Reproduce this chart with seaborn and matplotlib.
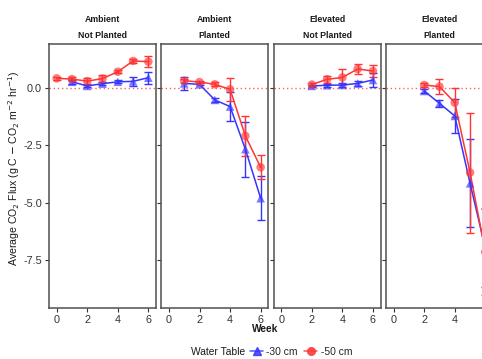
import matplotlib
matplotlib.use("Agg")
import matplotlib.pyplot as plt
import seaborn as sns
import pandas as pd
from matplotlib.lines import Line2D

# ---------------- data ----------------
panel_co2 = ["Ambient", "Ambient", "Elevated", "Elevated"]
panel_plant = ["Not Planted", "Planted", "Not Planted", "Planted"]
water_levels = ["-30 cm", "-50 cm"]

# -30 cm series (blue)
w30_weeks = [[1, 2, 3, 4, 5, 6], [1, 2, 3, 4, 5, 6], [2, 3, 4, 5, 6], [2, 3, 4, 5, 6]]
w30_mean = [[0.27, 0.09, 0.19, 0.27, 0.29, 0.45],
            [0.20, 0.16, -0.52, -0.81, -2.67, -4.81],
            [0.09, 0.12, 0.13, 0.20, 0.35],
            [-0.13, -0.67, -1.22, -4.16, -7.00]]
w30_se = [[0.08, 0.06, 0.07, 0.06, 0.20, 0.27],
          [0.28, 0.04, 0.10, 0.65, 1.20, 0.95],
          [0.04, 0.07, 0.10, 0.12, 0.30],
          [0.10, 0.15, 0.75, 1.92, 1.70]]

# -50 cm series (red)
w50_weeks = [[0, 1, 2, 3, 4, 5, 6], [1, 2, 3, 4, 5, 6], [2, 3, 4, 5, 6], [2, 3, 4, 5, 6]]
w50_mean = [[0.42, 0.39, 0.30, 0.41, 0.71, 1.18, 1.15],
            [0.32, 0.26, 0.16, -0.06, -2.09, -3.46],
            [0.15, 0.38, 0.46, 0.83, 0.74],
            [0.13, 0.06, -0.64, -3.69, -7.15]]
w50_se = [[0.05, 0.10, 0.14, 0.14, 0.07, 0.10, 0.25],
          [0.08, 0.06, 0.09, 0.50, 0.87, 0.53],
          [0.07, 0.15, 0.35, 0.20, 0.28],
          [0.08, 0.33, 0.63, 2.62, 1.90]]

y_ticks = [0.0, -2.5, -5.0, -7.5]
y_tick_labels = ["0.0", "-2.5", "-5.0", "-7.5"]
x_ticks = [0, 2, 4, 6]

# ---------------- build table ----------------
rows = []
for p in range(4):
    for wl, wk, mn, se in [(water_levels[0], w30_weeks[p], w30_mean[p], w30_se[p]),
                           (water_levels[1], w50_weeks[p], w50_mean[p], w50_se[p])]:
        for w, m, s in zip(wk, mn, se):
            rows.append({"panel": p, "Water Table": wl, "Week": w, "flux": m, "se": s})
df = pd.DataFrame(rows)

# ---------------- style ----------------
sns.set_theme(style="white")
plt.rcParams["font.family"] = ["Liberation Sans", "DejaVu Sans"]
palette = {"-30 cm": "#3535FF", "-50 cm": "#FF3535"}
markers = {"-30 cm": "^", "-50 cm": "o"}

W, H = 482, 359
fig = plt.figure(figsize=(W / 100, H / 100), dpi=100)

panel_lefts = [49, 161.3, 273.6, 386]
panel_w = 107
top_px, bot_px = 44, 308
frame_col = "#505050"

axes = []
for p in range(4):
    ax = fig.add_axes([panel_lefts[p] / W, (H - bot_px) / H, panel_w / W, (bot_px - top_px) / H])
    axes.append(ax)
    sub = df[df["panel"] == p]
    ax.axhline(0, color="#FF6060", linestyle=(0, (1, 2)), linewidth=1.0, zorder=1)
    for wl in water_levels:
        s = sub[sub["Water Table"] == wl]
        ax.errorbar(s["Week"], s["flux"], yerr=s["se"], fmt="none",
                    ecolor=palette[wl], elinewidth=1.0, capsize=2.6, capthick=1.0, zorder=2)
    sns.lineplot(data=sub, x="Week", y="flux", hue="Water Table", palette=palette,
                 hue_order=water_levels, linewidth=1.1, ax=ax, legend=False, zorder=3,
                 estimator=None, errorbar=None)
    sns.scatterplot(data=sub, x="Week", y="flux", hue="Water Table", style="Water Table",
                    palette=palette, markers=markers, hue_order=water_levels,
                    style_order=water_levels, s=38, alpha=0.65, linewidth=0,
                    ax=ax, legend=False, zorder=4)
    ax.set_xlim(-0.5, 6.5)
    ax.set_ylim(-9.6, 1.92)
    ax.set_xticks(x_ticks)
    # the last panel is cropped at the figure edge, so its "6" label is not visible
    xlabels = [str(t) for t in x_ticks] if p < 3 else [str(t) for t in x_ticks[:-1]] + [""]
    ax.set_xticklabels(xlabels, fontsize=7.8, color="#333333")
    ax.set_yticks(y_ticks)
    if p == 0:
        ax.set_yticklabels(y_tick_labels, fontsize=7.8, color="#333333")
    else:
        ax.set_yticklabels([])
    ax.tick_params(axis="both", direction="out", length=3, width=0.8, color="#333333",
                   bottom=True, left=True, pad=2)
    ax.set_xlabel("")
    ax.set_ylabel("")
    for sp in ax.spines.values():
        sp.set_color(frame_col)
        sp.set_linewidth(1.1)
        sp.set_visible(True)
    cx = (panel_lefts[p] + panel_w / 2) / W
    fig.text(cx, 1 - 19 / H, panel_co2[p], ha="center", va="center",
             fontsize=6.3, fontweight="bold", color="#1a1a1a")
    fig.text(cx, 1 - 36 / H, panel_plant[p], ha="center", va="center",
             fontsize=6.3, fontweight="bold", color="#1a1a1a")

fig.text(14 / W, 1 - 168 / H,
         r"Average CO$_2$ Flux (g C $-$ CO$_2$ m$^{-2}$ hr$^{-1}$)",
         rotation=90, ha="center", va="center", fontsize=7.6, color="#1a1a1a")
fig.text(265 / W, 1 - 329 / H, "Week", ha="center", va="center",
         fontsize=7.3, fontweight="bold", color="#1a1a1a")

# legend
fig.text(191 / W, 1 - 352 / H, "Water Table", ha="left", va="center",
         fontsize=7.4, color="#1a1a1a")
handles = [Line2D([0], [0], color=palette[wl], marker=markers[wl], markersize=5.5,
                  linewidth=1.1, alpha=0.85) for wl in water_levels]
fig.legend(handles, water_levels, loc="center left", bbox_to_anchor=(250 / W, 1 - 352 / H),
           ncol=2, frameon=False, fontsize=7.4, handlelength=1.3, handletextpad=0.3,
           columnspacing=0.6, borderpad=0, borderaxespad=0)

fig.savefig("out.png", dpi=100)
